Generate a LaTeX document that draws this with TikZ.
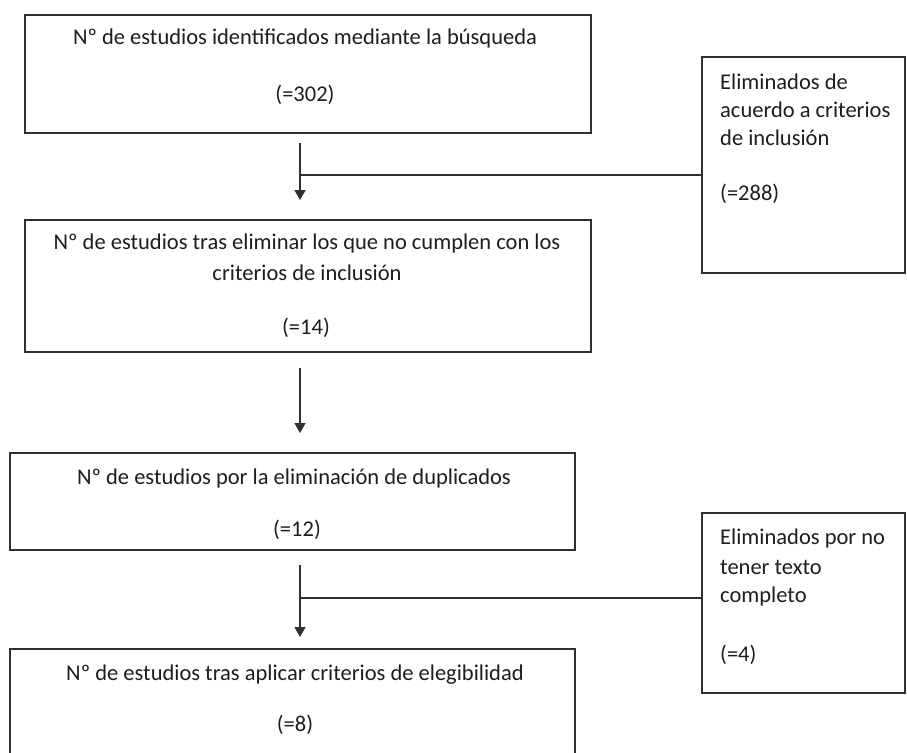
\documentclass[tikz,border=0pt]{standalone}
\usepackage{fontspec}
\setmainfont{Carlito}
\usetikzlibrary{arrows.meta}
\definecolor{ink}{HTML}{1E1E1E}
\definecolor{edge}{HTML}{303030}
\tikzset{
  x=1pt, y=-1pt,
  boxframe/.style={draw=edge, line width=1.4pt, fill=none, inner sep=0pt, outer sep=0pt, anchor=north west},
  txt/.style={text=ink, font=\fontsize{22.5}{27.5}\selectfont, inner sep=0pt, anchor=center},
  ltxt/.style={text=ink, font=\fontsize{22.5}{27.5}\selectfont, inner sep=0pt, anchor=west},
  conn/.style={draw=edge, line width=1.3pt},
  arr/.style={conn, -{Triangle[width=11pt,length=10pt]}}
}
\begin{document}
\begin{tikzpicture}
\useasboundingbox (0,0) rectangle (907,752);
\clip (0,0) rectangle (907,752);
\fill[white] (0,0) rectangle (907,752);
% main boxes
\node[boxframe, minimum width=566pt, minimum height=118pt] (b1) at (25,15) {};
\node[boxframe, minimum width=566pt, minimum height=132pt] (b2) at (25,220) {};
\node[boxframe, minimum width=565pt, minimum height=97pt] (b3) at (10,453) {};
\node[boxframe, minimum width=565pt, minimum height=120pt] (b4) at (10,649) {};
% side boxes
\node[boxframe, minimum width=203pt, minimum height=216pt] (r1) at (702,57) {};
\node[boxframe, minimum width=203pt, minimum height=180pt] (r2) at (702,513) {};
% texts
\node[txt] (t1a) at (305,39) {Nº de estudios identificados mediante la búsqueda};
\node[txt] (t1b) at (305,95) {(=302)};
\node[txt] (t2a) at (307,243) {Nº de estudios tras eliminar los que no cumplen con los};
\node[txt] (t2b) at (307,273) {criterios de inclusión};
\node[txt] (t2c) at (306,328) {(=14)};
\node[txt] (t3a) at (294,478) {Nº de estudios por la eliminación de duplicados};
\node[txt] (t3b) at (297,530) {(=12)};
\node[txt] (t4a) at (295,675) {Nº de estudios tras aplicar criterios de elegibilidad};
\node[txt] (t4b) at (295,725) {(=8)};
\node[ltxt] (r1a) at (720,82) {Eliminados de};
\node[ltxt] (r1b) at (720,110) {acuerdo a criterios};
\node[ltxt] (r1c) at (720,138) {de inclusión};
\node[ltxt] (r1d) at (720,194) {(=288)};
\node[ltxt] (r2a) at (720,538) {Eliminados por no};
\node[ltxt] (r2b) at (720,567) {tener texto};
\node[ltxt] (r2c) at (720,596) {completo};
\node[ltxt] (r2d) at (720,655) {(=4)};
% connector end points
\coordinate (a1s) at (300,143);
\coordinate (a1e) at (300,200);
\coordinate (j1) at (300,175);
\coordinate (a2s) at (300,368);
\coordinate (a2e) at (300,433);
\coordinate (a3s) at (300,565);
\coordinate (a3e) at (300,637);
\coordinate (j3) at (300,598);
% connectors
\draw[arr] (a1s) -- (a1e);
\draw[conn] (j1) -- (r1.west |- j1);
\draw[arr] (a2s) -- (a2e);
\draw[arr] (a3s) -- (a3e);
\draw[conn] (j3) -- (r2.west |- j3);
\end{tikzpicture}
\end{document}
